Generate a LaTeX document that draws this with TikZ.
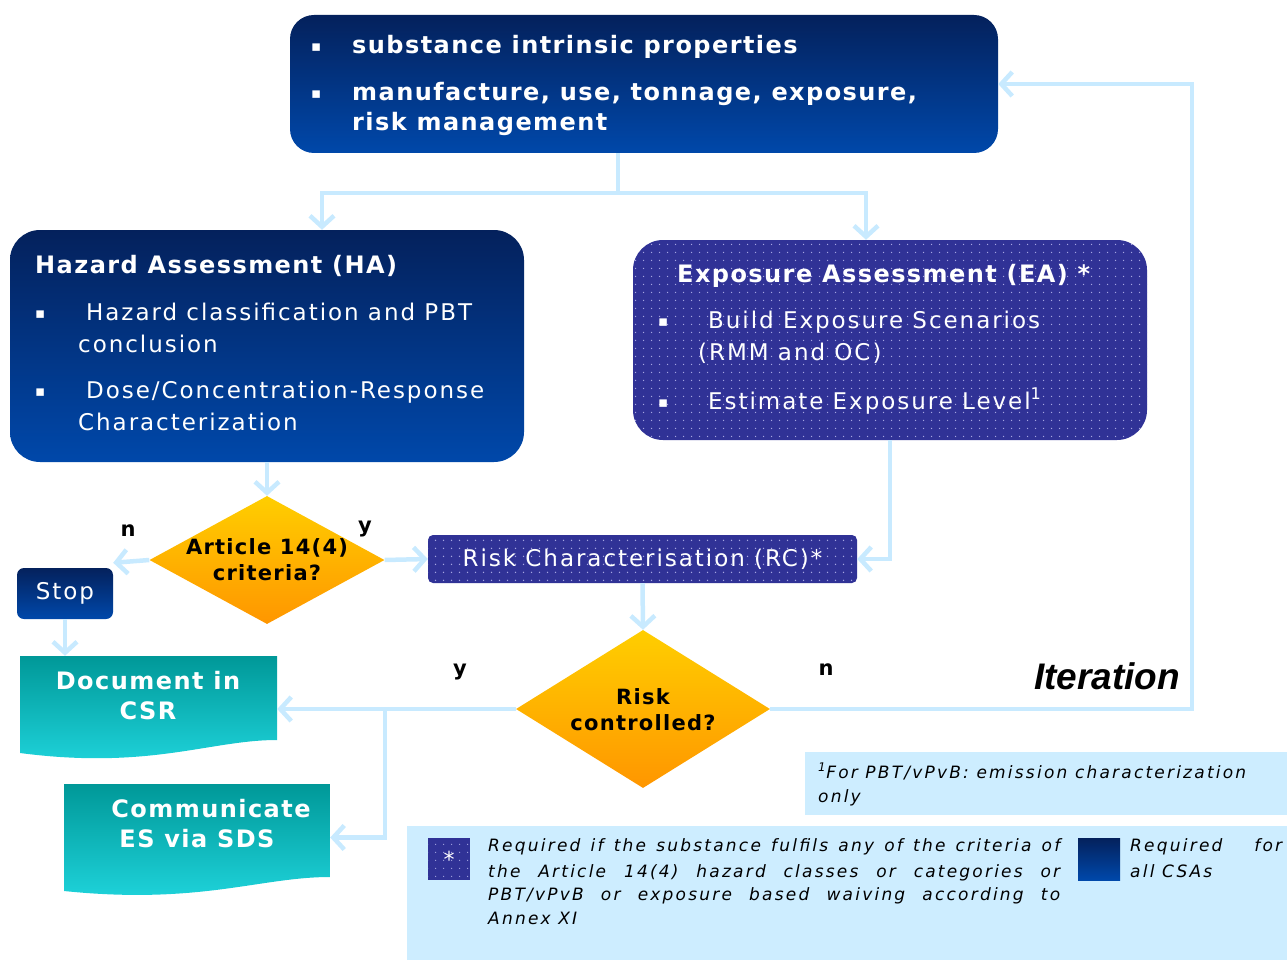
\documentclass[tikz,border=0pt]{standalone}
\usepackage{fontspec}
\setmainfont{DejaVu Sans}
\newfontfamily\vr{DejaVu Sans}[LetterSpace=8.5]
\newfontfamily\vb{DejaVu Sans}[LetterSpace=6]
\newfontfamily\vi{DejaVu Sans}[LetterSpace=13]
\newfontfamily\lib{Liberation Sans}
\usetikzlibrary{shapes.geometric,arrows.meta,patterns.meta}
\newcommand{\myfs}[1]{\fontsize{#1}{#1}\selectfont}
\definecolor{navytop}{RGB}{4,33,92}
\definecolor{navybot}{RGB}{0,72,170}
\definecolor{purp}{RGB}{48,50,150}
\definecolor{purpdot}{RGB}{165,165,225}
\definecolor{ortop}{RGB}{255,206,0}
\definecolor{orbot}{RGB}{255,150,0}
\definecolor{tealtop}{RGB}{0,152,152}
\definecolor{tealbot}{RGB}{32,214,222}
\definecolor{conn}{RGB}{200,234,255}
\definecolor{legbg}{RGB}{205,237,255}
\tikzdeclarepattern{
  name=smalldots, type=uncolored,
  bounding box={(0pt,0pt) and (8pt,8pt)},
  tile size={(8pt,8pt)},
  code={\fill (4pt,4pt) circle (0.8pt);}
}
\begin{document}
\begin{tikzpicture}[x=1pt,y=-1pt,
  navybox/.style={rectangle, rounded corners=24pt, top color=navytop, bottom color=navybot, draw=none, inner sep=0pt},
  purpbox/.style={rectangle, rounded corners=24pt, fill=purp, postaction={pattern=smalldots, pattern color=purpdot}, inner sep=0pt},
  decision/.style={diamond, top color=ortop, bottom color=orbot, draw=none, inner sep=0pt},
  ghost/.style={rectangle, inner sep=0pt},
  line/.style={draw=conn, line width=4.5pt},
  arr/.style={line, -{Straight Barb[length=11pt,width=24pt]}},
  wtxt/.style={text=white, inner sep=0pt, anchor=base west},
  btxt/.style={text=black, inner sep=0pt, anchor=base west},
  ttl/.style={wtxt, font=\vb\bfseries\myfs{24}},
  body/.style={wtxt, font=\vr\myfs{23}},
  bul/.style={wtxt, font=\vr\myfs{15}},
  lbl/.style={text=black, inner sep=0pt, font=\vb\bfseries\myfs{21}},
  leg/.style={btxt, font=\vi\itshape\myfs{17}}
]
\useasboundingbox (0,0) rectangle (1287,960);

% ---------- boxes ----------
\node[navybox, minimum width=708pt, minimum height=138pt] (top) at (644,84) {};
\node[navybox, rounded corners=30pt, minimum width=514pt, minimum height=232pt] (ha) at (267,346) {};
\node[purpbox, rounded corners=30pt, minimum width=514pt, minimum height=200pt] (ea) at (890,340) {};
\node[purpbox, rounded corners=5pt, minimum width=429pt, minimum height=48pt] (rc) at (642.5,559) {};
\node[navybox, rounded corners=7pt, minimum width=96pt, minimum height=51pt] (stop) at (65,593.5) {};
\node[decision, minimum width=235pt, minimum height=128pt] (d1) at (267,560) {};
\node[decision, minimum width=254pt, minimum height=158pt] (d2) at (643,709) {};
\node[ghost, minimum width=257pt, minimum height=100pt] (doc) at (148.5,706) {};
\node[ghost, minimum width=266pt, minimum height=107pt] (com) at (197,837.5) {};
\shade[top color=tealtop, bottom color=tealbot]
  (20,656) -- (277,656) -- (277,740) .. controls (210,740) and (150,770) .. (20,753) -- cycle;
\shade[top color=tealtop, bottom color=tealbot]
  (64,784) -- (330,784) -- (330,877) .. controls (260,877) and (200,905) .. (64,891) -- cycle;

% legend areas
\node[ghost, fill=legbg, minimum width=482pt, minimum height=63pt] (fn) at (1046,783.5) {};
\node[ghost, fill=legbg, minimum width=880pt, minimum height=134pt] (legbox) at (847,893) {};
\node[purpbox, rounded corners=0pt, minimum size=42pt, text=white, font=\myfs{22}] (lsq) at (449,859) {*};
\node[navybox, rounded corners=0pt, minimum size=42pt] (lnv) at (1099,859) {};

% ---------- texts ----------
\node[bul] (t1b) at (311,52) {▪};
\node[ttl] (t1) at (352,54) {substance intrinsic properties};
\node[bul] (t2b) at (311,99) {▪};
\node[ttl] (t2) at (352,101) {manufacture, use, tonnage, exposure,};
\node[ttl] (t3) at (352,131) {risk management};

\node[ttl] (ha0) at (35,273) {Hazard Assessment (HA)};
\node[bul] (ha1b) at (35,318) {▪};
\node[body] (ha1) at (86,320) {Hazard classification and PBT};
\node[body] (ha2) at (78,352) {conclusion};
\node[bul] (ha3b) at (35,396) {▪};
\node[body] (ha3) at (86,398) {Dose/Concentration-Response};
\node[body] (ha4) at (78,430) {Characterization};

\node[ttl] (ea0) at (677,282) {Exposure Assessment (EA) *};
\node[bul] (ea1b) at (658,326) {▪};
\node[body] (ea1) at (708,328) {Build Exposure Scenarios};
\node[body] (ea2) at (698,360) {(RMM and OC)};
\node[bul] (ea3b) at (658,407) {▪};
\node[body] (ea3) at (708,409) {Estimate Exposure Level\textsuperscript{1}};

\node[text=white, inner sep=0pt, font=\vr\myfs{23}] (rct) at (rc) {Risk Characterisation (RC)*};
\node[text=white, inner sep=0pt, font=\vr\myfs{23}] (stopt) at (stop) {Stop};

\node[lbl, align=center, font=\vb\bfseries\fontsize{21}{26}\selectfont] (d1t) at (d1) {Article 14(4)\\criteria?};
\node[lbl, align=center, font=\vb\bfseries\fontsize{21}{26}\selectfont] (d2t) at (643,710) {Risk\\controlled?};

\node[text=white, inner sep=0pt, align=center, font=\vb\bfseries\fontsize{24}{30}\selectfont] (doct) at (148,696) {Document in\\CSR};
\node[text=white, inner sep=0pt, font=\vb\bfseries\myfs{24}] (com1) at (211,809) {Communicate};
\node[text=white, inner sep=0pt, font=\vb\bfseries\myfs{24}] (com2) at (197,839) {ES via SDS};

\node[lbl] (ln1) at (128,531) {n};
\node[lbl] (ly1) at (365,529) {y};
\node[lbl] (ly2) at (460,672) {y};
\node[lbl] (ln2) at (826,670) {n};
\node[text=black, inner sep=0pt, font=\lib\bfseries\itshape\myfs{37}] (iter) at (1107,676) {Iteration};

\node[leg] (fn1) at (818,778) {\textsuperscript{1}For PBT/vPvB: emission characterization};
\node[leg] (fn2) at (818,802) {only};

\node[leg] (lg1) at (488,851) {\makebox[572pt][s]{Required if the substance fulfils any of the criteria of}};
\node[leg] (lg2) at (488,877) {\makebox[572pt][s]{the Article 14(4) hazard classes or categories or}};
\node[leg] (lg3) at (488,900) {\makebox[572pt][s]{PBT/vPvB or exposure based waiving according to}};
\node[leg] (lg4) at (488,924) {Annex XI};
\node[leg] (lr1) at (1130,851) {\makebox[152pt][s]{Required for}};
\node[leg] (lr2) at (1130,877) {all CSAs};

% ---------- connectors ----------
\coordinate (jt) at (618,193);
\coordinate (br) at (385,709);
\coordinate (itc) at (1192,84);
\draw[line] (top.south -| jt) -- (jt);
\draw[arr] (jt) -| ([xshift=55pt]ha.north);
\draw[arr] (jt) -| ([xshift=-24pt]ea.north);
\draw[arr] (ha.south) -- (d1.north);
\draw[arr] (d1.west) -- ([yshift=5pt]stop.north east);
\draw[arr] (stop.south) -- (stop.south |- doc.north);
\draw[arr] (d1.east) -- (rc.west);
\draw[arr] (ea.south) |- (rc.east);
\draw[arr] (rc.south) -- (d2.north);
\draw[arr] (d2.west) -- (d2.west -| doc.east);
\draw[arr] (br) |- (com.east);
\draw[arr] (d2.east) -| (itc) -- (top.east);
\end{tikzpicture}
\end{document}
